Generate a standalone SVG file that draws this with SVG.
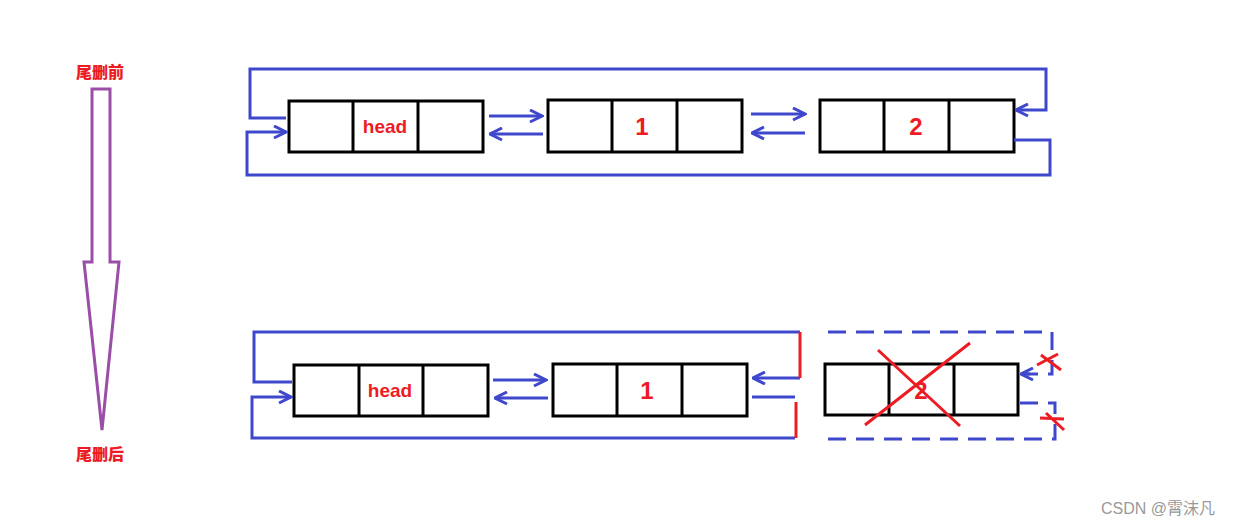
<svg xmlns="http://www.w3.org/2000/svg" width="1240" height="526" viewBox="0 0 1240 526">
<style>
.box{fill:#fff;stroke:#000;stroke-width:3}
.cell{stroke:#000;stroke-width:3}
.lnk{fill:none;stroke:#3f48cc;stroke-width:3}
.dash{fill:none;stroke:#3f48cc;stroke-width:3;stroke-dasharray:18 10}
.red{fill:none;stroke:#ed1c24;stroke-width:3}
.lbl{font-family:"Liberation Sans",Arial,sans-serif;font-weight:bold;fill:#ed1c24;text-anchor:middle}
.cn{font-family:"Noto Sans CJK SC",sans-serif;font-weight:900;fill:#ed1c24;font-size:16px;text-anchor:middle}
</style>
<defs>
<marker id="ah" viewBox="0 0 10 10" refX="9" refY="5" markerWidth="5" markerHeight="5" orient="auto" markerUnits="strokeWidth">
<path d="M1,1 L9,5 L1,9" fill="none" stroke="#3f48cc" stroke-width="2"/>
</marker>
</defs>
<rect width="1240" height="526" fill="#fff"/>
<g id="stage-arrow">
<path d="M92,89 H110 V262 H119 L102,430 L84,262 H92 Z" fill="none" stroke="#9b4ea8" stroke-width="3"/>
<text class="cn" x="100" y="78">尾删前</text>
<text class="cn" x="100" y="460">尾删后</text>
</g>
<g id="top-head"><rect class="box" x="289" y="101" width="194" height="51"/><line class="cell" x1="353" y1="101" x2="353" y2="152"/><line class="cell" x1="418" y1="101" x2="418" y2="152"/><text class="lbl" x="385" y="133" font-size="19">head</text></g>
<g id="top-n1"><rect class="box" x="548" y="100" width="194" height="52"/><line class="cell" x1="612" y1="100" x2="612" y2="152"/><line class="cell" x1="677" y1="100" x2="677" y2="152"/><text class="lbl" x="642" y="135" font-size="24">1</text></g>
<g id="top-n2"><rect class="box" x="820" y="100" width="194" height="52"/><line class="cell" x1="884" y1="100" x2="884" y2="152"/><line class="cell" x1="949" y1="100" x2="949" y2="152"/><text class="lbl" x="916" y="135" font-size="24">2</text></g>
<g id="bot-head"><rect class="box" x="294" y="365" width="194" height="51"/><line class="cell" x1="359" y1="365" x2="359" y2="416"/><line class="cell" x1="423" y1="365" x2="423" y2="416"/><text class="lbl" x="390" y="397" font-size="19">head</text></g>
<g id="bot-n1"><rect class="box" x="553" y="364" width="194" height="52"/><line class="cell" x1="617" y1="364" x2="617" y2="416"/><line class="cell" x1="682" y1="364" x2="682" y2="416"/><text class="lbl" x="647" y="399" font-size="24">1</text></g>
<g id="bot-n2"><rect class="box" x="825" y="364" width="193" height="51"/><line class="cell" x1="889" y1="364" x2="889" y2="415"/><line class="cell" x1="954" y1="364" x2="954" y2="415"/><text class="lbl" x="921" y="399" font-size="24">2</text></g>
<g id="connectors">
<path class="lnk" d="M286,118 H250 V69 H1046 V110 H1016" marker-end="url(#ah)"/>
<path class="lnk" d="M1014,140 H1050 V175 H247 V132 H286" marker-end="url(#ah)"/>
<path class="lnk" d="M489,116 H542" marker-end="url(#ah)"/>
<path class="lnk" d="M543,134 H490" marker-end="url(#ah)"/>
<path class="lnk" d="M751,114 H805" marker-end="url(#ah)"/>
<path class="lnk" d="M805,133 H752" marker-end="url(#ah)"/>
<path class="lnk" d="M292,382 H254 V332 H800"/>
<path class="lnk" d="M800,378 H753" marker-end="url(#ah)"/>
<path class="lnk" d="M752,397 H795"/>
<path class="lnk" d="M795,438 H252 V397 H291" marker-end="url(#ah)"/>
<path class="lnk" d="M493,380 H546" marker-end="url(#ah)"/>
<path class="lnk" d="M548,398 H495" marker-end="url(#ah)"/>
<path class="red" d="M800,332 V378"/>
<path class="red" d="M796,402 V438"/>
<path class="dash" d="M828,332 H1052 V374 H1021"/>
<path class="lnk" d="M1030,374 H1021" marker-end="url(#ah)"/>
<path class="dash" d="M1020,403 H1055 V439 H822"/>
<path class="red" d="M878,350 L960,426 M865,425 L970,343"/>
<path class="red" d="M1037,365 L1058,354 M1041,355 L1061,370"/>
<path class="red" d="M1040,418 L1064,419 M1046,413 L1064,430"/>
</g>
<text x="1158" y="514" font-family="Liberation Sans,Noto Sans CJK SC,sans-serif" font-size="16" fill="#999" text-anchor="middle">CSDN @霄沫凡</text>
</svg>
